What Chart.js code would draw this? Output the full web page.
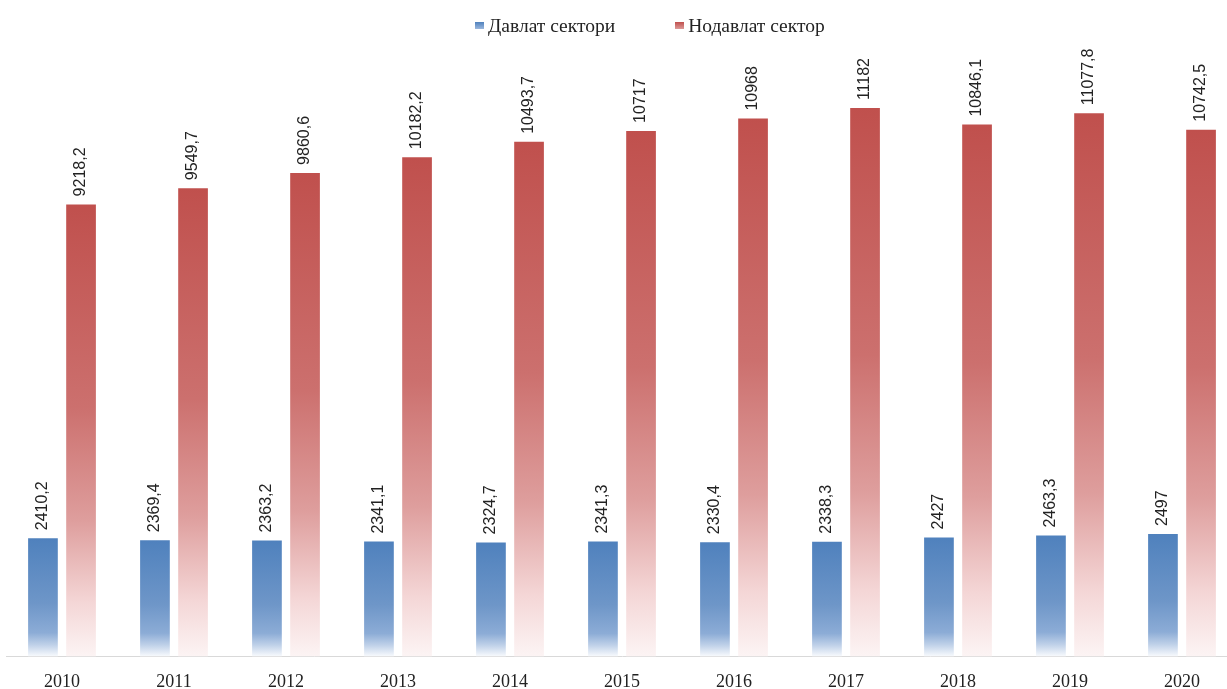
<!DOCTYPE html>
<html>
<head>
<meta charset="utf-8">
<script src="https://cdn.jsdelivr.net/npm/chart.js@4.4.1/dist/chart.umd.min.js"></script>
<style>
    html, body { margin: 0; padding: 0; background: #fff; overflow: hidden; }
    #wrap { position: relative; width: 1238px; height: 708px; }
    #legend { position: absolute; top: 15px; left: 475px; white-space: nowrap;
              font-family: "Liberation Serif", "Times New Roman", serif; font-size: 19.5px; color: #222; }
    #legend span.item { display: inline-block; margin-right: 60px; }
    #legend span.box { display: inline-block; width: 9px; height: 7px; margin-right: 4px; vertical-align: 3px; }
    canvas { display: block; }
</style>
</head>
<body>
<div id="wrap">
    <div id="legend"></div>
    <canvas id="mainchart" width="1238" height="708"></canvas>
</div>
<script>
const years = ['2010', '2011', '2012', '2013', '2014', '2015', '2016', '2017', '2018', '2019', '2020'];
const stateSector = [2410.2, 2369.4, 2363.2, 2341.1, 2324.7, 2341.3, 2330.4, 2338.3, 2427, 2463.3, 2497];
const nonStateSector = [9218.2, 9549.7, 9860.6, 10182.2, 10493.7, 10717, 10968, 11182, 10846.1, 11077.8, 10742.5];
const seriesNames = ['Давлат сектори', 'Нодавлат сектор'];

// gradient stops for each series: top of bar -> bottom of bar
const blueStops = [[0, 'rgb(79,129,189)'], [0.55, 'rgb(110,150,200)'], [0.8, 'rgb(140,172,214)'], [0.9, 'rgb(190,208,232)'], [1, 'rgb(248,250,253)']];
const redStops = [[0, 'rgb(192,80,77)'], [0.45, 'rgb(204,112,110)'], [0.7, 'rgb(222,158,157)'], [0.88, 'rgb(244,214,214)'], [1, 'rgb(252,244,244)']];

function barGradient(stops, legendColor) {
    return function (context) {
        const chart = context.chart;
        if (!chart.chartArea || context.raw === undefined) return legendColor;
        const y = chart.scales.y;
        const top = y.getPixelForValue(context.raw);
        const bottom = y.getPixelForValue(0);
        const g = chart.ctx.createLinearGradient(0, top, 0, bottom);
        stops.forEach(s => g.addColorStop(s[0], s[1]));
        return g;
    };
}

// rotated value labels above each bar
const valueLabels = {
    id: 'valueLabels',
    afterDatasetsDraw(chart) {
        const ctx = chart.ctx;
        ctx.save();
        ctx.font = '16px "Liberation Sans", Arial, sans-serif';
        ctx.fillStyle = '#222';
        ctx.textAlign = 'left';
        ctx.textBaseline = 'middle';
        chart.data.datasets.forEach((ds, i) => {
            chart.getDatasetMeta(i).data.forEach((bar, j) => {
                const text = String(ds.data[j]).replace('.', ',');
                ctx.save();
                ctx.translate(bar.x, bar.y - 8);
                ctx.rotate(-Math.PI / 2);
                ctx.fillText(text, 0, 0);
                ctx.restore();
            });
        });
        ctx.restore();
    }
};

function buildLegend(chart) {
    const el = document.getElementById('legend');
    const boxes = ['linear-gradient(#4f81bd, #9bb7dd)', 'linear-gradient(#c0504d, #dc9a98)'];
    el.innerHTML = chart.data.datasets.map((ds, i) =>
        '<span class="item"><span class="box" style="background:' + boxes[i] + '"></span>' + ds.label + '</span>'
    ).join('');
}

const ctx = document.getElementById('mainchart').getContext('2d');
const myChart = new Chart(ctx, {
    type: 'bar',
    data: {
        labels: years,
        datasets: [
            {
                label: seriesNames[0],
                data: stateSector,
                backgroundColor: barGradient(blueStops, '#4f81bd'),
                borderWidth: 0,
                categoryPercentage: 0.68,
                barPercentage: 0.78,
            },
            {
                label: seriesNames[1],
                data: nonStateSector,
                backgroundColor: barGradient(redStops, '#c0504d'),
                borderWidth: 0,
                categoryPercentage: 0.68,
                barPercentage: 0.78,
            },
        ],
    },
    options: {
        responsive: false,
        animation: false,
        layout: {
            padding: { top: 68, left: 6, right: 0, bottom: 0 }
        },
        plugins: {
            legend: { display: false },
            tooltip: { enabled: false }
        },
        scales: {
            x: {
                grid: { display: false, drawTicks: false },
                border: { display: true, color: '#d9d9d9', width: 1 },
                ticks: {
                    color: '#222',
                    padding: 15,
                    maxRotation: 0,
                    font: { family: '"Liberation Serif", "Times New Roman", serif', size: 18 }
                }
            },
            y: {
                display: false,
                min: 0,
                max: 12000
            }
        }
    },
    plugins: [valueLabels]
});
buildLegend(myChart);
</script>
</body>
</html>
